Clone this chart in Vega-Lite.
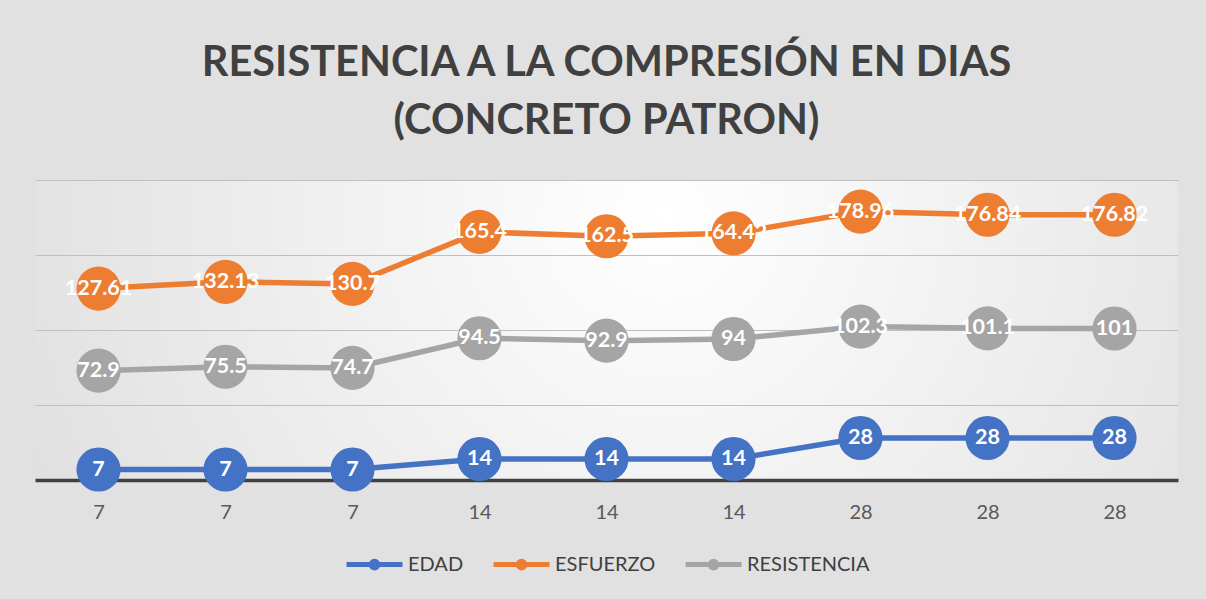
{
  "$schema": "https://vega.github.io/schema/vega-lite/v6.json",
  "width": 1143,
  "height": 300,
  "autosize": {"type": "none"},
  "padding": {"left": 35, "top": 180, "right": 28, "bottom": 119},
  "background": "#e1e1e1",
  "title": {
    "text": ["RESISTENCIA A LA COMPRESIÓN EN DIAS", "(CONCRETO PATRON)"],
    "font": "Lato",
    "fontSize": 41.5,
    "fontWeight": "bold",
    "color": "#404040",
    "anchor": "middle",
    "offset": 38,
    "lineHeight": 58
  },
  "config": {
    "view": {
      "stroke": null,
      "fill": {
        "gradient": "radial",
        "x1": 0.55, "y1": 0.4, "r1": 0,
        "x2": 0.55, "y2": 0.4, "r2": 0.72,
        "stops": [
          {"offset": 0, "color": "#ffffff"},
          {"offset": 1, "color": "#dadada"}
        ]
      }
    },
    "legend": {
      "layout": {"bottom": {"anchor": "middle"}}
    }
  },
  "data": {
    "values": [
      {"muestra": "7-a", "serie": "EDAD", "valor": 7},
      {"muestra": "7-b", "serie": "EDAD", "valor": 7},
      {"muestra": "7-c", "serie": "EDAD", "valor": 7},
      {"muestra": "14-a", "serie": "EDAD", "valor": 14},
      {"muestra": "14-b", "serie": "EDAD", "valor": 14},
      {"muestra": "14-c", "serie": "EDAD", "valor": 14},
      {"muestra": "28-a", "serie": "EDAD", "valor": 28},
      {"muestra": "28-b", "serie": "EDAD", "valor": 28},
      {"muestra": "28-c", "serie": "EDAD", "valor": 28},
      {"muestra": "7-a", "serie": "ESFUERZO", "valor": 127.61},
      {"muestra": "7-b", "serie": "ESFUERZO", "valor": 132.13},
      {"muestra": "7-c", "serie": "ESFUERZO", "valor": 130.7},
      {"muestra": "14-a", "serie": "ESFUERZO", "valor": 165.4},
      {"muestra": "14-b", "serie": "ESFUERZO", "valor": 162.5},
      {"muestra": "14-c", "serie": "ESFUERZO", "valor": 164.42},
      {"muestra": "28-a", "serie": "ESFUERZO", "valor": 178.96},
      {"muestra": "28-b", "serie": "ESFUERZO", "valor": 176.84},
      {"muestra": "28-c", "serie": "ESFUERZO", "valor": 176.82},
      {"muestra": "7-a", "serie": "RESISTENCIA", "valor": 72.9},
      {"muestra": "7-b", "serie": "RESISTENCIA", "valor": 75.5},
      {"muestra": "7-c", "serie": "RESISTENCIA", "valor": 74.7},
      {"muestra": "14-a", "serie": "RESISTENCIA", "valor": 94.5},
      {"muestra": "14-b", "serie": "RESISTENCIA", "valor": 92.9},
      {"muestra": "14-c", "serie": "RESISTENCIA", "valor": 94},
      {"muestra": "28-a", "serie": "RESISTENCIA", "valor": 102.3},
      {"muestra": "28-b", "serie": "RESISTENCIA", "valor": 101.1},
      {"muestra": "28-c", "serie": "RESISTENCIA", "valor": 101}
    ]
  },
  "encoding": {
    "x": {
      "field": "muestra",
      "type": "ordinal",
      "sort": null,
      "axis": {
        "title": null,
        "labelExpr": "split(datum.label, '-')[0]",
        "labelAngle": 0,
        "ticks": false,
        "grid": false,
        "domainColor": "#404040",
        "domainWidth": 3.5,
        "labelFont": "Lato",
        "labelFontSize": 20,
        "labelColor": "#595959",
        "labelPadding": 22
      }
    },
    "y": {
      "field": "valor",
      "type": "quantitative",
      "scale": {"domain": [0, 200]},
      "axis": {
        "title": null,
        "labels": false,
        "ticks": false,
        "domain": false,
        "values": [50, 100, 150, 200],
        "gridColor": "#bfbfbf",
        "gridWidth": 1
      }
    }
  },
  "layer": [
    {
      "mark": {"type": "line", "strokeWidth": 5.5},
      "encoding": {
        "color": {
          "field": "serie",
          "type": "nominal",
          "scale": {"domain": ["EDAD", "ESFUERZO", "RESISTENCIA"], "range": ["#4472C4", "#ED7D31", "#A5A5A5"]},
          "legend": {
            "title": null,
            "orient": "bottom",
            "direction": "horizontal",
            "symbolType": "M-1,0H1M-0.12,0A0.12,0.12 0 1,0 0.12,0A0.12,0.12 0 1,0 -0.12,0",
            "symbolSize": 3136,
            "symbolStrokeWidth": 5,
            "labelFont": "Lato",
            "labelFontSize": 20,
            "labelColor": "#404040",
            "labelOffset": 3,
            "columnPadding": 19,
            "offset": 12
          }
        }
      }
    },
    {
      "mark": {"type": "point", "filled": true, "size": 1950, "opacity": 1},
      "encoding": {
        "fill": {
          "field": "serie",
          "type": "nominal",
          "scale": {"domain": ["EDAD", "ESFUERZO", "RESISTENCIA"], "range": ["#4472C4", "#ED7D31", "#A5A5A5"]},
          "legend": null
        }
      }
    },
    {
      "mark": {"type": "text", "color": "white", "font": "Lato", "fontWeight": "bold", "fontSize": 21.5},
      "encoding": {
        "text": {"field": "valor", "type": "quantitative"}
      }
    }
  ]
}
